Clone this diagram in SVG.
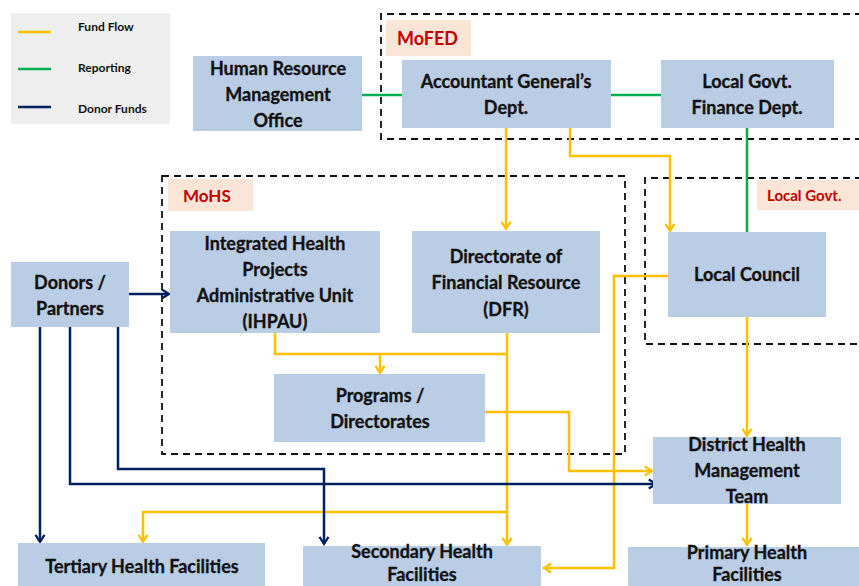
<svg xmlns="http://www.w3.org/2000/svg" width="859" height="586" viewBox="0 0 859 586">
<defs>
<style>
.box{fill:#b9cde5;}
.t{font-family:Lato,"Liberation Sans",sans-serif;font-weight:bold;font-size:18px;fill:#111;text-anchor:middle;stroke:#111;stroke-width:0.3;}
.lg{font-family:Lato,"Liberation Sans",sans-serif;font-weight:bold;font-size:12px;fill:#111;}
.lbl{font-family:Lato,"Liberation Sans",sans-serif;font-weight:bold;fill:#c00000;}
.lblbox{fill:#fbe5d6;}
.dash{fill:none;stroke:#111;stroke-width:1.8;stroke-dasharray:7,5;}
.y{fill:none;stroke:#ffc000;stroke-width:2.5;}
.g{fill:none;stroke:#00b050;stroke-width:2.5;}
.n{fill:none;stroke:#002060;stroke-width:2.5;}
</style>
<marker id="ay" viewBox="0 0 10 12" refX="9" refY="6" markerWidth="9" markerHeight="11" orient="auto" markerUnits="userSpaceOnUse" overflow="visible">
<polyline points="1,1 9,6 1,11" fill="none" stroke="#ffc000" stroke-width="2.5"/>
</marker>
<marker id="an" viewBox="0 0 10 12" refX="9" refY="6" markerWidth="9" markerHeight="11" orient="auto" markerUnits="userSpaceOnUse" overflow="visible">
<polyline points="1,1 9,6 1,11" fill="none" stroke="#002060" stroke-width="2.5"/>
</marker>
</defs>
<rect width="859" height="586" fill="#ffffff"/>

<g id="legend">
<rect x="11" y="13" width="159" height="111" fill="#eeeeee"/>
<line x1="18" y1="32" x2="51" y2="32" class="y"/>
<line x1="18" y1="69" x2="51" y2="69" class="g"/>
<line x1="18" y1="107" x2="51" y2="107" class="n"/>
<text x="78" y="31" class="lg">Fund Flow</text>
<text x="78" y="72" class="lg">Reporting</text>
<text x="78" y="113" class="lg">Donor Funds</text>
</g>

<g id="mofed">
<path d="M862,14 H381 V139 H862" class="dash"/>
<rect x="386" y="20" width="85" height="36" class="lblbox"/>
<text x="397" y="45" class="lbl" font-size="18">MoFED</text>
</g>
<g id="mohs">
<rect x="162" y="176" width="463" height="278" class="dash"/>
<rect x="168" y="179" width="85" height="32" class="lblbox"/>
<text x="183" y="202" class="lbl" font-size="17">MoHS</text>
</g>
<g id="localgovt">
<path d="M862,178 H645 V344 H862" class="dash"/>
<rect x="757" y="180" width="104" height="30" class="lblbox"/>
<text x="767" y="201" class="lbl" font-size="15">Local Govt.</text>
</g>

<g id="connectors">
<line x1="362" y1="95" x2="402" y2="95" class="g"/>
<line x1="611" y1="95" x2="661" y2="95" class="g"/>
<line x1="747" y1="128" x2="747" y2="232" class="g"/>
<line x1="506" y1="128" x2="506" y2="229" class="y" marker-end="url(#ay)"/>
<polyline points="570,128 570,156 670,156 670,231" class="y" marker-end="url(#ay)"/>
<polyline points="275,333 275,354 507,354" class="y"/>
<line x1="380" y1="354" x2="380" y2="373" class="y" marker-end="url(#ay)"/>
<line x1="507" y1="333" x2="507" y2="545" class="y" marker-end="url(#ay)"/>
<polyline points="507,512 143,512 143,542" class="y" marker-end="url(#ay)"/>
<polyline points="485,412 569,412 569,471 652,471" class="y" marker-end="url(#ay)"/>
<polyline points="668,276 614,276 614,568 544,568" class="y" marker-end="url(#ay)"/>
<line x1="747" y1="317" x2="747" y2="436" class="y" marker-end="url(#ay)"/>
<line x1="747" y1="504" x2="747" y2="545" class="y" marker-end="url(#ay)"/>
<line x1="129" y1="294" x2="169" y2="294" class="n" marker-end="url(#an)"/>
<line x1="40" y1="327" x2="40" y2="542" class="n" marker-end="url(#an)"/>
<polyline points="70,327 70,484 656,484" class="n" marker-end="url(#an)"/>
<polyline points="118,327 118,469 324,469 324,544" class="n" marker-end="url(#an)"/>
</g>

<g id="hrmo">
<rect x="193" y="56" width="169" height="75" class="box"/>
<text x="278" y="75" class="t">Human Resource</text>
<text x="278" y="101" class="t">Management</text>
<text x="278" y="127" class="t">Office</text>
</g>
<g id="agd">
<rect x="402" y="60" width="209" height="68" class="box"/>
<text x="506" y="88" class="t">Accountant General’s</text>
<text x="506" y="114" class="t">Dept.</text>
</g>
<g id="lgfd">
<rect x="661" y="60" width="173" height="68" class="box"/>
<text x="747" y="88" class="t">Local Govt.</text>
<text x="747" y="114" class="t">Finance Dept.</text>
</g>
<g id="ihpau">
<rect x="170" y="231" width="210" height="102" class="box"/>
<text x="275" y="250" class="t">Integrated Health</text>
<text x="275" y="276" class="t">Projects</text>
<text x="275" y="302" class="t">Administrative Unit</text>
<text x="275" y="328" class="t">(IHPAU)</text>
</g>
<g id="dfr">
<rect x="412" y="231" width="188" height="102" class="box"/>
<text x="506" y="263" class="t">Directorate of</text>
<text x="506" y="289" class="t">Financial Resource</text>
<text x="506" y="316" class="t">(DFR)</text>
</g>
<g id="programs">
<rect x="274" y="374" width="211" height="68" class="box"/>
<text x="380" y="402" class="t">Programs /</text>
<text x="380" y="428" class="t">Directorates</text>
</g>
<g id="localcouncil">
<rect x="668" y="232" width="158" height="85" class="box"/>
<text x="747" y="281" class="t">Local Council</text>
</g>
<g id="donors">
<rect x="11" y="262" width="118" height="65" class="box"/>
<text x="70" y="289" class="t">Donors /</text>
<text x="70" y="315" class="t">Partners</text>
</g>
<g id="dhmt">
<rect x="653" y="437" width="188" height="67" class="box"/>
<text x="747" y="451" class="t">District Health</text>
<text x="747" y="477" class="t">Management</text>
<text x="747" y="503" class="t">Team</text>
</g>
<g id="tertiary">
<rect x="18" y="543" width="247" height="50" class="box"/>
<text x="142" y="573" class="t">Tertiary Health Facilities</text>
</g>
<g id="secondary">
<rect x="303" y="546" width="238" height="50" class="box"/>
<text x="422" y="558" class="t">Secondary Health</text>
<text x="422" y="581" class="t">Facilities</text>
</g>
<g id="primary">
<rect x="628" y="547" width="240" height="50" class="box"/>
<text x="747" y="559" class="t">Primary  Health</text>
<text x="747" y="581" class="t">Facilities</text>
</g>
</svg>
